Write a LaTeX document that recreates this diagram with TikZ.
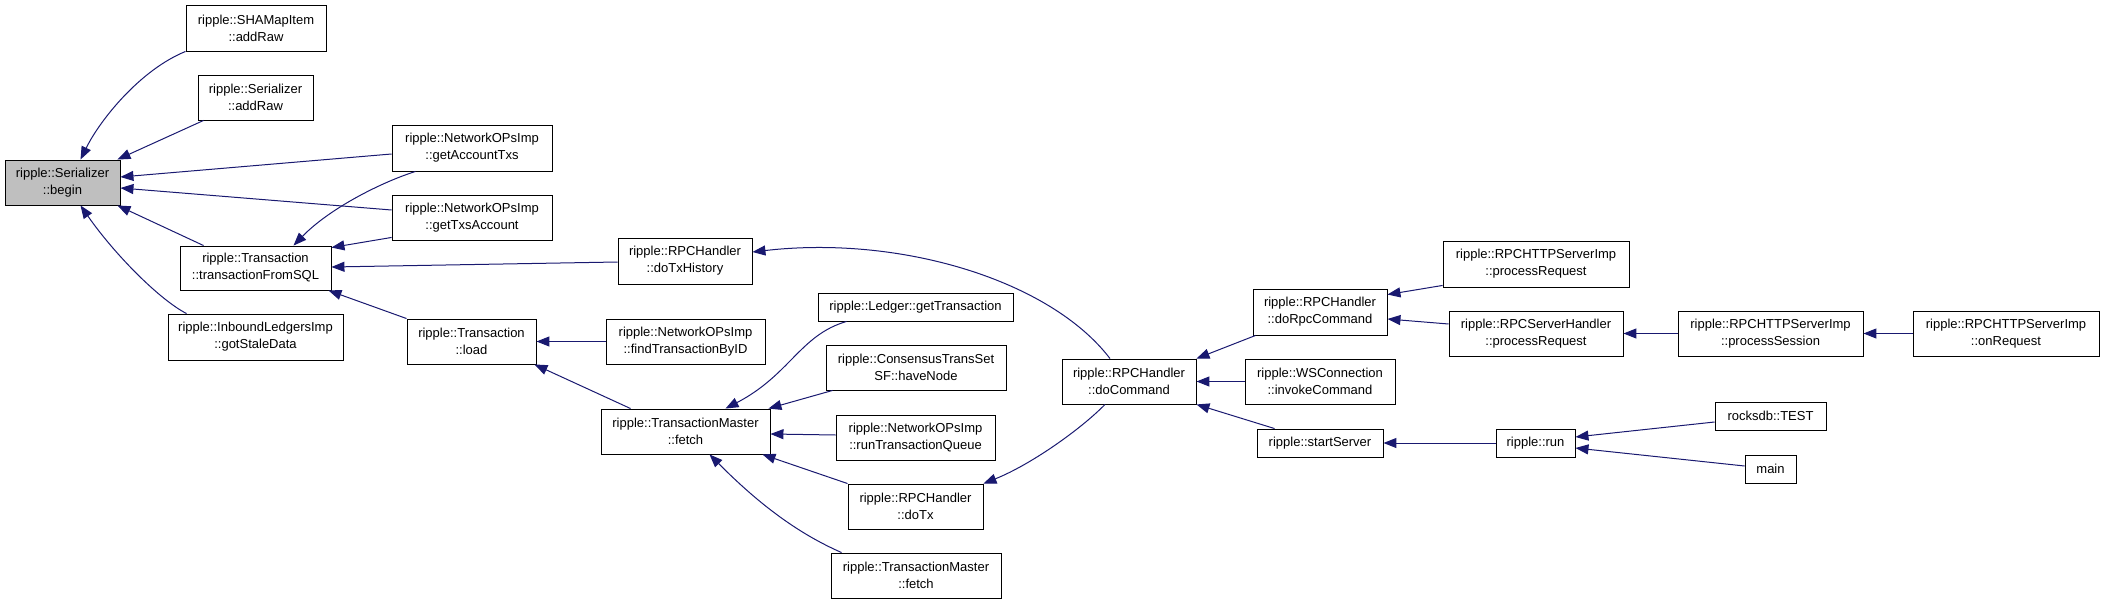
\documentclass[tikz,border=0pt]{standalone}
\usepackage{fontspec}
\setmainfont{Liberation Sans}
\usetikzlibrary{arrows.meta,calc}
\definecolor{edgeblue}{HTML}{191970}
\definecolor{nodegray}{HTML}{BFBFBF}
\begin{document}
\begin{tikzpicture}[x=1pt,y=-1pt,
  fn/.style={draw=black,line width=0.9pt,rectangle,inner sep=0pt,align=center,
    font=\fontsize{13}{17}\selectfont,minimum height=45pt},
  sl/.style={fn,minimum height=28pt},
  call/.style={draw=edgeblue,line width=1pt,-{Triangle[length=13pt,width=10pt]}}
]
\useasboundingbox (0,0) rectangle (2104,604);

% nodes
\node[fn,fill=nodegray,minimum width=115pt] (begin) at (62.5,182.5) {ripple::Serializer\\::begin};
\node[fn,minimum width=140pt,minimum height=46pt] (shamap) at (256,28) {ripple::SHAMapItem\\::addRaw};
\node[fn,minimum width=115pt] (seradd) at (255.5,97.5) {ripple::Serializer\\::addRaw};
\node[fn,minimum width=160pt,minimum height=46pt] (getacc) at (472,148) {ripple::NetworkOPsImp\\::getAccountTxs};
\node[fn,minimum width=160pt] (gettxs) at (472,217.5) {ripple::NetworkOPsImp\\::getTxsAccount};
\node[fn,minimum width=151pt,minimum height=44pt] (tfsql) at (255.5,268) {ripple::Transaction\\::transactionFromSQL};
\node[fn,minimum width=175pt,minimum height=46pt] (stale) at (255.5,337) {ripple::InboundLedgersImp\\::gotStaleData};
\node[fn,minimum width=129pt] (load) at (471.5,341.5) {ripple::Transaction\\::load};
\node[fn,minimum width=134pt,minimum height=46pt] (txhist) at (685,261) {ripple::RPCHandler\\::doTxHistory};
\node[sl,minimum width=195pt] (ledger) at (915.5,307) {ripple::Ledger::getTransaction};
\node[fn,minimum width=159pt] (findtx) at (685.5,341.5) {ripple::NetworkOPsImp\\::findTransactionByID};
\node[fn,minimum width=180pt] (havenode) at (916,367.5) {ripple::ConsensusTransSet\\SF::haveNode};
\node[fn,minimum width=169pt] (fetch) at (685.5,431.5) {ripple::TransactionMaster\\::fetch};
\node[fn,minimum width=159pt] (runtq) at (915.5,437.5) {ripple::NetworkOPsImp\\::runTransactionQueue};
\node[fn,minimum width=135pt] (dotx) at (915.5,506.5) {ripple::RPCHandler\\::doTx};
\node[fn,minimum width=170pt] (fetchb) at (916,575.5) {ripple::TransactionMaster\\::fetch};
\node[fn,minimum width=134pt] (docmd) at (1129,381.5) {ripple::RPCHandler\\::doCommand};
\node[fn,minimum width=150pt] (invoke) at (1320,381.5) {ripple::WSConnection\\::invokeCommand};
\node[sl,minimum width=126pt] (startsrv) at (1320,443) {ripple::startServer};
\node[sl,minimum width=79pt] (run) at (1535.5,443) {ripple::run};
\node[fn,minimum width=134pt,minimum height=46pt] (dorpc) at (1320,312) {ripple::RPCHandler\\::doRpcCommand};
\node[fn,minimum width=186pt,minimum height=46pt] (httpproc) at (1536,264) {ripple::RPCHTTPServerImp\\::processRequest};
\node[fn,minimum width=174pt] (srvproc) at (1536,333.5) {ripple::RPCServerHandler\\::processRequest};
\node[fn,minimum width=185pt] (session) at (1770.5,333.5) {ripple::RPCHTTPServerImp\\::processSession};
\node[fn,minimum width=186pt] (onreq) at (2006,333.5) {ripple::RPCHTTPServerImp\\::onRequest};
\node[sl,minimum width=111pt] (test) at (1770.5,416) {rocksdb::TEST};
\node[sl,minimum width=51pt] (mainfn) at (1770.5,469) {main};

% edges (caller -> callee, head at callee)
\draw[call] (shamap.south west) .. controls (140,70) and (100,120) .. ($(begin.north)+(18,0)$);
\draw[call] ($(seradd.south west)+(6,0)$) -- ($(begin.north east)+(-3,0)$);
\draw[call] ($(getacc.west)+(0,6)$) -- ($(begin.east)+(0,-5.5)$);
\draw[call] ($(gettxs.west)+(0,-7.5)$) -- ($(begin.east)+(0,5.5)$);
\draw[call] ($(tfsql.north west)+(24,0)$) -- ($(begin.south east)+(-3,0)$);
\draw[call] ($(stale.north west)+(19,0)$) .. controls (160,300) and (115,255) .. ($(begin.south)+(18,0)$);

\draw[call] ($(getacc.south west)+(24,0)$) .. controls (382,182) and (330,208) .. ($(tfsql.north)+(38,0)$);
\draw[call] ($(gettxs.south west)+(0,-3)$) -- ($(tfsql.north east)+(0,2)$);
\draw[call] ($(txhist.west)+(0,1)$) -- ($(tfsql.east)+(0,-1)$);
\draw[call] (load.north west) -- ($(tfsql.south east)+(-3,0)$);

\draw[call] (findtx.west) -- (load.east);
\draw[call] ($(fetch.north west)+(30,0)$) -- ($(load.south east)+(-2,0)$);

\draw[call] ($(ledger.south west)+(29,0)$) .. controls (800,335) and (790,375) .. ($(fetch.north)+(40,0)$);
\draw[call] ($(havenode.south west)+(7,0)$) -- ($(fetch.north east)+(-2,0)$);
\draw[call] ($(runtq.west)+(0,-2.5)$) -- ($(fetch.east)+(0,2.5)$);
\draw[call] (dotx.north west) -- ($(fetch.south east)+(-8,0)$);
\draw[call] ($(fetchb.north west)+(11,0)$) .. controls (790,530) and (750,495) .. ($(fetch.south)+(24,0)$);

\draw[call] ($(docmd.north)+(-19,0)$) .. controls (1050,280) and (900,235) .. ($(txhist.east)+(0,-9)$);
\draw[call] ($(docmd.south)+(-24,0)$) .. controls (1080,430) and (1030,465) .. (dotx.north east);

\draw[call] ($(dorpc.south west)+(3,0)$) -- (docmd.north east);
\draw[call] (invoke.west) -- (docmd.east);
\draw[call] ($(startsrv.north west)+(18,0)$) -- (docmd.south east);

\draw[call] ($(httpproc.south west)+(0,-2)$) -- ($(dorpc.north east)+(0,6)$);
\draw[call] ($(srvproc.west)+(0,-9.5)$) -- ($(dorpc.east)+(0,7)$);
\draw[call] (session.west) -- (srvproc.east);
\draw[call] (onreq.west) -- (session.east);

\draw[call] (run.west) -- (startsrv.east);
\draw[call] ($(test.west)+(0,6)$) -- ($(run.east)+(0,-6)$);
\draw[call] ($(mainfn.west)+(0,-3)$) -- ($(run.east)+(0,5)$);
\end{tikzpicture}
\end{document}
